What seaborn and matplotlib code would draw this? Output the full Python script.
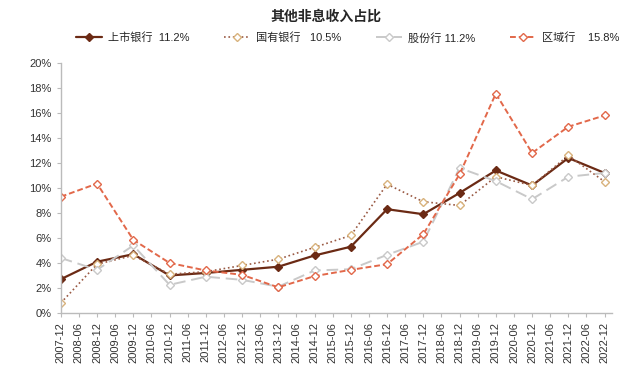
import pandas as pd
import matplotlib
matplotlib.use("Agg")
import matplotlib.pyplot as plt
import seaborn as sns
from matplotlib.ticker import PercentFormatter

# tick labels (semi-annual) and data dates (annual)
tickLabels = []
for yr in range(2007, 2023):
    if yr > 2007:
        tickLabels.append(f"{yr}-06")
    tickLabels.append(f"{yr}-12")
dates = [f"{yr}-12" for yr in range(2007, 2023)]

listed = [2.7, 4.1, 4.7, 3.0, 3.2, 3.45, 3.7, 4.6, 5.3, 8.3, 7.9, 9.6, 11.4, 10.2, 12.4, 11.2]
stateOwned = [0.8, 3.9, 4.6, 3.1, 3.3, 3.8, 4.3, 5.25, 6.2, 10.3, 8.9, 8.6, 10.9, 10.2, 12.6, 10.5]
jointStock = [4.4, 3.45, 5.4, 2.25, 2.9, 2.65, 2.1, 3.4, 3.5, 4.65, 5.7, 11.6, 10.55, 9.1, 10.9, 11.2]
regional = [9.3, 10.35, 5.85, 4.0, 3.4, 3.05, 2.05, 2.95, 3.45, 3.9, 6.3, 11.1, 17.55, 12.8, 14.9, 15.8]

seriesNames = ["上市银行  11.2%", "国有银行   10.5%", "股份行 11.2%", "区域行    15.8%"]

df = pd.DataFrame({"date": dates, "上市银行": listed, "国有银行": stateOwned,
                   "股份行": jointStock, "区域行": regional})
df["x"] = [tickLabels.index(d) for d in df["date"]]

sns.set_style("white")
plt.rcParams['font.family'] = ['Liberation Sans', 'Noto Sans CJK SC', 'DejaVu Sans']

fig = plt.figure(figsize=(6.4, 3.84), dpi=100)
ax = fig.add_axes([0.095, 0.185, 0.861, 0.651])

styles = [
    ("上市银行", dict(color="#6B2A14", linestyle="-", lw=1.6, marker="D", ms=4,
                    mfc="#6B2A14", mec="#6B2A14")),
    ("国有银行", dict(color="#9A5A44", linestyle=":", lw=1.2, marker="D", ms=4.5,
                    mfc="white", mec="#D8B27C")),
    ("股份行", dict(color="#C9C9C9", linestyle=(0, (6, 3)), lw=1.4, marker="D", ms=4.5,
                   mfc="white", mec="#C9C9C9")),
    ("区域行", dict(color="#E2684A", linestyle=(0, (3, 1.5)), lw=1.4, marker="D", ms=4.5,
                   mfc="white", mec="#E2684A")),
]
for (col, kw), name in zip(styles, seriesNames):
    sns.lineplot(data=df, x="x", y=col, ax=ax, label=name, markeredgewidth=1, **kw)

ax.set_xlim(0, 30.4)
ax.set_ylim(0, 20)
ax.set_yticks(range(0, 21, 2))
ax.yaxis.set_major_formatter(PercentFormatter(decimals=0))
ax.set_xticks(range(len(tickLabels)))
ax.set_xticklabels(tickLabels, rotation=90)
ax.set_xlabel("")
ax.set_ylabel("")
ax.tick_params(axis="both", labelsize=8, colors="#333333", length=3, width=0.8,
               direction="out", bottom=True, left=True)
ax.tick_params(axis="both", color="#BBBBBB")
for s in ["top", "right"]:
    ax.spines[s].set_visible(False)
for s in ["left", "bottom"]:
    ax.spines[s].set_color("#BBBBBB")
    ax.spines[s].set_linewidth(1)

fig.suptitle("其他非息收入占比", x=0.51, y=0.975, fontsize=10, fontweight="bold")
ax.legend(loc="center", bbox_to_anchor=(0.52, 1.1), ncol=4, frameon=False,
          fontsize=8, handlelength=2.4, columnspacing=3.1, handletextpad=0.5)

fig.savefig("out.png", dpi=100)
